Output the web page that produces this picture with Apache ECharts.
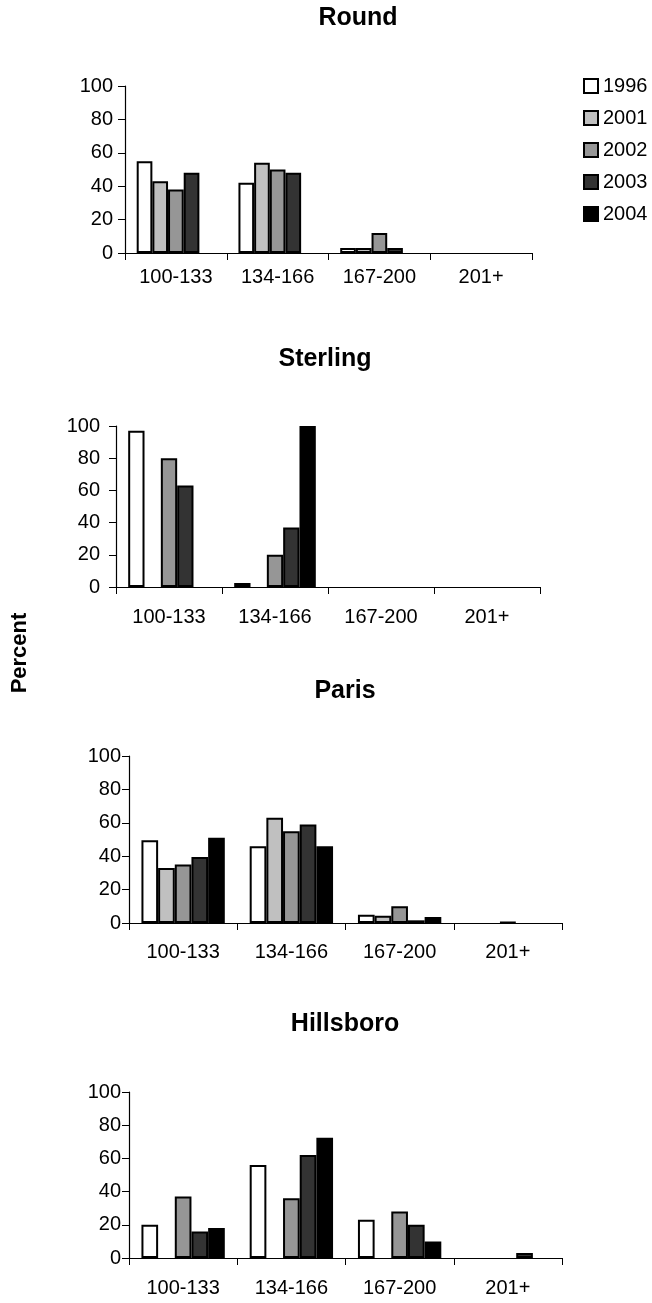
<!DOCTYPE html>
<html>
<head>
<meta charset="utf-8">
<script src="https://cdn.jsdelivr.net/npm/echarts@6/dist/echarts.min.js"></script>
<style>
  html, body { margin: 0; padding: 0; background: #fff; }
  #chart { width: 652px; height: 1303px; }
</style>
</head>
<body>
<div id="chart"></div>
<script>
// categories and legend
var categories = ['100-133', '134-166', '167-200', '201+'];
var years = ['1996', '2001', '2002', '2003', '2004'];
var yearColors = ['#ffffff', '#c0c0c0', '#969696', '#333333', '#000000'];
var yTicks = [0, 20, 40, 60, 80, 100];

// Round (rows follow years)
var round1996 = [55, 42, 3, 0];
var round2001 = [43, 54, 3, 0];
var round2002 = [38, 50, 12, 0];
var round2003 = [48, 48, 3, 0];
var round2004 = [0, 0, 0, 0];

// Sterling
var sterling1996 = [97, 2.5, 0, 0];
var sterling2001 = [0, 0, 0, 0];
var sterling2002 = [80, 20, 0, 0];
var sterling2003 = [63, 37, 0, 0];
var sterling2004 = [0, 100, 0, 0];

// Paris
var paris1996 = [49.5, 46, 5, 0];
var paris2001 = [33, 63, 4.4, 0];
var paris2002 = [35, 55, 10, 0.5];
var paris2003 = [39.5, 59, 1.6, 0];
var paris2004 = [51, 46, 3.6, 0];

// Hillsboro
var hills1996 = [20, 56, 23, 0];
var hills2001 = [0, 0, 0, 0];
var hills2002 = [37, 36, 28, 0];
var hills2003 = [16, 62, 20, 3];
var hills2004 = [18, 72.5, 10, 0];

var panels = [
  { name: 'Round', rows: [round1996, round2001, round2002, round2003, round2004] },
  { name: 'Sterling', rows: [sterling1996, sterling2001, sterling2002, sterling2003, sterling2004] },
  { name: 'Paris', rows: [paris1996, paris2001, paris2002, paris2003, paris2004] },
  { name: 'Hillsboro', rows: [hills1996, hills2001, hills2002, hills2003, hills2004] }
];

// layout of each small chart
var grids = [
  { left: 125, top: 86, width: 407, height: 167 },
  { left: 116, top: 426, width: 424, height: 161 },
  { left: 129, top: 756, width: 433, height: 167 },
  { left: 129, top: 1092, width: 433, height: 166 }
];
var titlePos = [[358, 6], [325, 347], [345, 679], [345, 1012]];
var xLabelMargin = [14, 20, 19, 20];
var yLabelMargin = [12, 16, 8, 8];

var FONT = '"Liberation Sans", Arial, sans-serif';

var myChart = echarts.init(document.getElementById('chart'));

var option = {
  backgroundColor: '#fff',
  animation: false,
  title: panels.map(function (p, i) {
    return {
      text: p.name,
      left: titlePos[i][0],
      top: titlePos[i][1],
      textAlign: 'center',
      padding: 0,
      textStyle: { fontFamily: FONT, fontSize: 25, fontWeight: 'bold', color: '#000' }
    };
  }),
  legend: {
    data: years,
    orient: 'vertical',
    left: 583,
    top: 76,
    padding: 0,
    itemWidth: 14,
    itemHeight: 14,
    itemGap: 12,
    icon: 'rect',
    itemStyle: { borderColor: '#000', borderWidth: 2 },
    textStyle: { fontFamily: FONT, fontSize: 20, color: '#000' }
  },
  graphic: [{
    type: 'text',
    x: 20,
    y: 653,
    rotation: Math.PI / 2,
    style: {
      text: 'Percent',
      font: 'bold 22px "Liberation Sans", Arial, sans-serif',
      fill: '#000',
      textAlign: 'center',
      textVerticalAlign: 'middle'
    }
  }],
  grid: grids.map(function (g) {
    return { left: g.left, top: g.top, width: g.width, height: g.height, containLabel: false };
  }),
  xAxis: grids.map(function (g, i) {
    return {
      type: 'category',
      gridIndex: i,
      data: categories,
      axisLine: { lineStyle: { color: '#000', width: 1.2 } },
      axisTick: { show: true, inside: false, length: 7, lineStyle: { color: '#000' } },
      axisLabel: { fontFamily: FONT, fontSize: 20, color: '#000', margin: xLabelMargin[i] },
      splitLine: { show: false }
    };
  }),
  yAxis: grids.map(function (g, i) {
    return {
      type: 'value',
      gridIndex: i,
      min: yTicks[0],
      max: yTicks[yTicks.length - 1],
      interval: 20,
      axisLine: { show: true, lineStyle: { color: '#000', width: 1.2 } },
      axisTick: { show: true, inside: false, length: 7, lineStyle: { color: '#000' } },
      axisLabel: { fontFamily: FONT, fontSize: 20, color: '#000', margin: yLabelMargin[i] },
      splitLine: { show: false }
    };
  }),
  series: []
};

panels.forEach(function (p, i) {
  p.rows.forEach(function (row, k) {
    option.series.push({
      name: years[k],
      type: 'bar',
      xAxisIndex: i,
      yAxisIndex: i,
      // empty cells are left undrawn, as in the original
      data: row.map(function (v) { return v === 0 ? '-' : v; }),
      barGap: '0%',
      barCategoryGap: '23%',
      itemStyle: { color: yearColors[k], borderColor: '#000', borderWidth: 2 }
    });
  });
});

myChart.setOption(option);
</script>
</body>
</html>
